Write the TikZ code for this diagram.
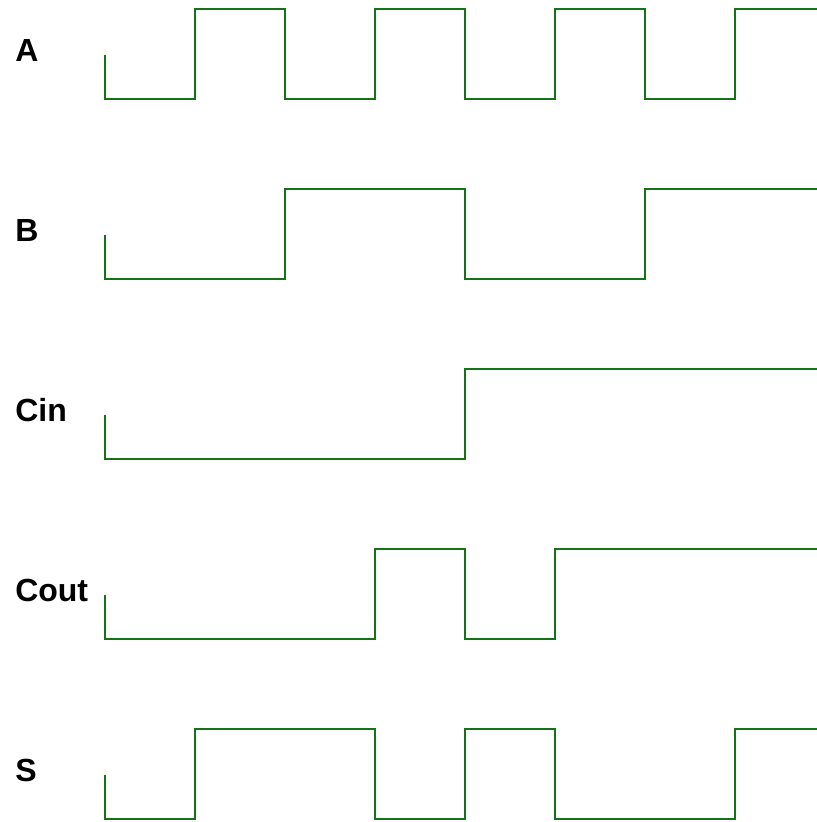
\documentclass[tikz,border=0pt]{standalone}
\usepackage{fontspec}
\setmainfont{Liberation Sans}
\usepackage{tikz}
\definecolor{wavegreen}{RGB}{20,115,20}
\tikzset{
	wave/.style={draw=wavegreen, line width=0.8pt},
	sig/.style={font=\fontsize{24}{29}\selectfont\bfseries, anchor=west, inner sep=0pt}
}

\begin{document}
\begin{tikzpicture}[x=0.75pt,y=0.75pt,yscale=-1]
	\useasboundingbox (0,0) rectangle (817,822);
	
	% signal names
	\node [sig] (sigA) at (15,50) {A};
	\node [sig] (sigB) at (15,230) {B};
	\node [sig] (sigCin) at (15,410) {Cin};
	\node [sig] (sigCout) at (15,590) {Cout};
	\node [sig] (sigS) at (15,770) {S};
	
	% A
	\draw [wave] (105,55) -- (105,99) -- (195,99) -- (195,9) -- (285,9) -- (285,99) -- (375,99) -- (375,9) -- (465,9) -- (465,99) -- (555,99) -- (555,9) -- (645,9) -- (645,99) -- (735,99) -- (735,9) -- (817,9) ;
	
	% B
	\draw [wave] (105,235) -- (105,279) -- (285,279) -- (285,189) -- (465,189) -- (465,279) -- (645,279) -- (645,189) -- (817,189) ;
	
	% Cin
	\draw [wave] (105,415) -- (105,459) -- (465,459) -- (465,369) -- (817,369) ;
	
	% Cout
	\draw [wave] (105,595) -- (105,639) -- (375,639) -- (375,549) -- (465,549) -- (465,639) -- (555,639) -- (555,549) -- (817,549) ;
	
	% S
	\draw [wave] (105,775) -- (105,819) -- (195,819) -- (195,729) -- (375,729) -- (375,819) -- (465,819) -- (465,729) -- (555,729) -- (555,819) -- (735,819) -- (735,729) -- (817,729) ;
	
\end{tikzpicture}
\end{document}
